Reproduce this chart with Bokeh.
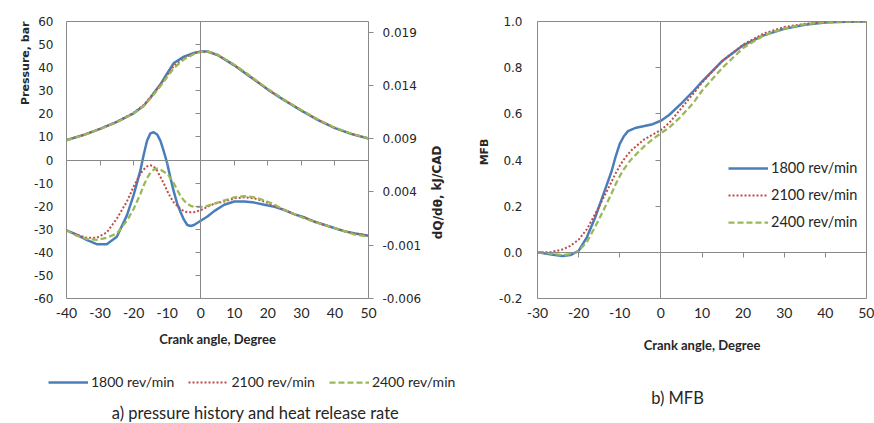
from bokeh.plotting import figure
from bokeh.models import (Range1d, LinearAxis, FixedTicker, PrintfTickFormatter,
                          Label, Legend, LegendItem, Title)
from bokeh.layouts import row, column
from bokeh.embed import file_html
from bokeh.resources import INLINE

# ---------------- data ----------------
series_names = ["1800 rev/min", "2100 rev/min", "2400 rev/min"]

# a) cylinder pressure (bar)
p_angle = [-40, -35, -30, -25, -20, -17, -15, -12, -10, -8, -5, -2, 0, 2, 5, 10, 15, 20, 25, 30, 35, 40, 45, 50]
p_1800 = [8.6, 10.8, 13.5, 16.5, 20.2, 23.5, 27.0, 32.8, 37.5, 42.0, 44.8, 46.4, 47.0, 47.0, 45.5, 41.0, 35.8, 30.5, 25.8, 21.4, 17.3, 13.8, 11.2, 9.3]
p_2100 = [8.6, 10.8, 13.5, 16.6, 20.4, 23.8, 27.2, 32.6, 36.8, 40.8, 44.2, 46.2, 46.9, 47.0, 45.6, 41.1, 35.9, 30.6, 25.9, 21.5, 17.4, 13.9, 11.3, 9.4]
p_2400 = [8.5, 10.7, 13.4, 16.4, 20.2, 23.4, 26.6, 32.0, 36.0, 39.8, 43.6, 45.9, 46.8, 47.0, 45.7, 41.3, 36.1, 30.8, 26.0, 21.6, 17.5, 14.0, 11.4, 9.4]

# a) heat release rate (kJ/CAD)
h_angle = [-40, -37, -34, -31, -28, -25, -22, -20, -18, -17, -16, -15, -14, -13, -12, -11, -10, -9, -8, -7,
           -6, -5, -4, -3, -2, 0, 2, 4, 7, 10, 13, 16, 19, 22, 25, 28, 31, 34, 37, 40, 43, 46, 50]
h_1800 = [0.0004, 0.0000, -0.0005, -0.0009, -0.0009, -0.0002, 0.0018, 0.0037, 0.0060, 0.0075, 0.0088, 0.0095,
          0.0096, 0.0094, 0.0088, 0.0078, 0.0067, 0.0053, 0.0040, 0.0029, 0.0021, 0.0014, 0.0009, 0.0008,
          0.0009, 0.0013, 0.0017, 0.0022, 0.0028, 0.0031, 0.0031, 0.0030, 0.0028, 0.0026, 0.0023, 0.0019,
          0.0016, 0.0012, 0.0009, 0.0006, 0.0003, 0.0001, -0.0001]
h_2100 = [0.0004, 0.0000, -0.0003, -0.0003, 0.0002, 0.0015, 0.0031, 0.0045, 0.0057, 0.0061, 0.0064, 0.0065,
          0.0064, 0.0060, 0.0054, 0.0048, 0.0041, 0.0035, 0.0030, 0.0027, 0.0024, 0.0022, 0.0021, 0.0021,
          0.0021, 0.0023, 0.0026, 0.0029, 0.0031, 0.0034, 0.0035, 0.0034, 0.0031, 0.0027, 0.0023, 0.0019,
          0.0016, 0.0012, 0.0009, 0.0006, 0.0003, 0.0001, -0.0001]
h_2400 = [0.0004, -0.0001, -0.0004, -0.0005, -0.0003, 0.0001, 0.0013, 0.0024, 0.0038, 0.0046, 0.0053, 0.0058,
          0.0061, 0.0062, 0.0061, 0.0059, 0.0057, 0.0053, 0.0048, 0.0042, 0.0036, 0.0032, 0.0029, 0.0027,
          0.0026, 0.0026, 0.0027, 0.0029, 0.0032, 0.0035, 0.0036, 0.0035, 0.0032, 0.0028, 0.0023, 0.0019,
          0.0015, 0.0012, 0.0009, 0.0006, 0.0003, 0.0000, -0.0002]

# b) mass fraction burned
m_angle = [-30, -27, -24, -22, -20, -18, -16, -14, -12, -11, -10, -9, -8, -7, -6, -4, -2, 0, 2, 5, 8, 10,
           15, 20, 25, 30, 35, 40, 45, 50]
m_1800 = [0.0, -0.008, -0.016, -0.012, 0.006, 0.065, 0.15, 0.25, 0.35, 0.415, 0.47, 0.503, 0.525, 0.533, 0.54,
          0.547, 0.555, 0.57, 0.595, 0.645, 0.70, 0.74, 0.83, 0.897, 0.94, 0.968, 0.986, 0.996, 0.999, 1.0]
m_2100 = [0.0, 0.0, 0.012, 0.028, 0.055, 0.10, 0.165, 0.235, 0.305, 0.342, 0.375, 0.402, 0.425, 0.445, 0.46,
          0.49, 0.51, 0.53, 0.56, 0.625, 0.69, 0.735, 0.83, 0.90, 0.948, 0.976, 0.99, 0.998, 1.0, 1.0]
m_2400 = [0.0, -0.005, -0.012, -0.008, 0.005, 0.045, 0.11, 0.18, 0.255, 0.295, 0.33, 0.36, 0.385, 0.407, 0.425,
          0.46, 0.49, 0.516, 0.54, 0.59, 0.65, 0.70, 0.80, 0.885, 0.94, 0.97, 0.988, 0.997, 1.0, 1.0]

# tick labels
a_x_ticks = [-40, -30, -20, -10, 0, 10, 20, 30, 40, 50]
a_y_ticks = [-60, -50, -40, -30, -20, -10, 0, 10, 20, 30, 40, 50, 60]
a_y2_ticks = [-0.006, -0.001, 0.004, 0.009, 0.014, 0.019]
b_x_ticks = [-30, -20, -10, 0, 10, 20, 30, 40, 50]
b_y_ticks = [-0.2, 0.0, 0.2, 0.4, 0.6, 0.8, 1.0]

# ---------------- style ----------------
BLUE, RED, GREEN = "#4A7EBB", "#BE4B48", "#98B954"
GRAY = "#898989"
TXT = "#262626"
styles = [dict(color=BLUE, line_width=2.5),
          dict(color=RED, line_width=2, line_dash="2 2"),
          dict(color=GREEN, line_width=2.25, line_dash="6 3")]

TOP_H, BOT_H = 360, 63
W1, WM, W2 = 426, 26, 422      # top row widths
WB1, WB2 = 460, 414            # bottom row widths
NAN = float("nan")


def style_main(ax, ticks, font, size, standoff, fmt):
    ax.ticker = FixedTicker(ticks=ticks)
    ax.formatter = fmt
    ax.major_tick_line_color = None
    ax.major_tick_in = 0
    ax.major_tick_out = 0
    ax.minor_tick_line_color = None
    ax.minor_tick_out = 0
    ax.axis_line_color = None
    ax.major_label_text_font = font
    ax.major_label_text_font_size = size
    ax.major_label_text_color = TXT
    ax.major_label_standoff = standoff


def zero_axis(ticks, tin, tout):
    return LinearAxis(fixed_location=0, ticker=FixedTicker(ticks=ticks),
                      axis_line_color=GRAY, axis_line_width=1,
                      major_tick_line_color=GRAY, major_tick_in=tin, major_tick_out=tout,
                      minor_tick_line_color=None, minor_tick_out=0,
                      major_label_overrides={t: "" for t in ticks},
                      major_label_text_font_size="1px", major_label_text_alpha=0,
                      major_label_standoff=0)


def blank_fig(w, h):
    f = figure(width=w, height=h, output_backend="svg", toolbar_location=None,
               x_range=Range1d(0, w), y_range=Range1d(0, h),
               x_axis_type=None, y_axis_type=None, min_border=0)
    f.grid.visible = False
    f.outline_line_color = None
    f.background_fill_color = "white"
    f.border_fill_color = "white"
    return f


def chart_fig(w, xr, yr, left, fw, top, fh):
    f = figure(width=w, height=TOP_H, output_backend="svg", toolbar_location=None,
               x_range=Range1d(*xr), y_range=Range1d(*yr),
               min_border_left=left, min_border_right=w - left - fw,
               min_border_top=top, min_border_bottom=TOP_H - top - fh)
    f.grid.visible = False
    f.outline_line_color = GRAY
    f.background_fill_color = "white"
    f.border_fill_color = "white"
    return f


def style_xlabel(ax, standoff):
    ax.axis_label = "Crank angle, Degree"
    ax.axis_label_text_font = "Lato"
    ax.axis_label_text_font_size = "13px"
    ax.axis_label_text_font_style = "bold"
    ax.axis_label_text_color = TXT
    ax.axis_label_standoff = standoff


# ---------------- a) pressure & heat release ----------------
p1 = chart_fig(W1, (-40, 50), (-60, 60), 66, 302, 17, 281)
p1.extra_y_ranges = {"hrr": Range1d(-0.006, 0.02)}
style_main(p1.xaxis[0], a_x_ticks, "Lato", "14px", 9, PrintfTickFormatter(format="%d"))
style_xlabel(p1.xaxis[0], 10)
style_main(p1.yaxis[0], a_y_ticks, "DejaVu Sans", "12px", 13, PrintfTickFormatter(format="%d"))

ax_r = LinearAxis(y_range_name="hrr", ticker=FixedTicker(ticks=a_y2_ticks),
                  formatter=PrintfTickFormatter(format="%.3f"),
                  axis_line_color=None, major_tick_line_color=GRAY,
                  major_tick_in=0, major_tick_out=5, minor_tick_line_color=None, minor_tick_out=0,
                  major_label_text_font="DejaVu Sans", major_label_text_font_size="12px",
                  major_label_text_color=TXT, major_label_standoff=9)
p1.add_layout(ax_r, "right")
p1.add_layout(zero_axis(a_x_ticks[1:-1], 5, 0), "above")
p1.add_layout(zero_axis(a_y_ticks[1:-1], 0, 5), "left")
p1.add_layout(Title(text="Pressure, bar", align="right", offset=0, standoff=-2,
                    text_font="DejaVu Sans", text_font_size="11px", text_font_style="bold",
                    text_color=TXT), "left")

for ys, st in zip([p_1800, p_2100, p_2400], styles):
    p1.line(p_angle, ys, **st)
for ys, st in zip([h_1800, h_2100, h_2400], styles):
    p1.line(h_angle, ys, y_range_name="hrr", **st)

# narrow strip holding the right-hand axis title of chart a)
pm = blank_fig(WM, TOP_H)
pm.add_layout(Label(x=11, y=TOP_H - 222, text="dQ/dθ, kJ/CAD", angle=1.5708,
                    text_font="DejaVu Sans", text_font_size="12px", text_font_style="bold",
                    text_color=TXT, text_align="center", text_baseline="middle"))

# ---------------- b) MFB ----------------
p2 = chart_fig(W2, (-30, 50), (-0.2, 1.0), 85, 329, 21, 277)
style_main(p2.xaxis[0], b_x_ticks, "Lato", "14px", 9, PrintfTickFormatter(format="%d"))
style_xlabel(p2.xaxis[0], 16)
style_main(p2.yaxis[0], b_y_ticks, "DejaVu Sans", "12px", 15, PrintfTickFormatter(format="%.1f"))
p2.add_layout(zero_axis(b_x_ticks[1:-1], 5, 0), "above")
p2.add_layout(zero_axis(b_y_ticks[1:-1], 5, 0), "right")
p2.add_layout(Title(text="MFB", align="right", offset=117, standoff=12,
                    text_font="DejaVu Sans", text_font_size="11px", text_font_style="bold",
                    text_color=TXT), "left")

mr = []
for ys, st in zip([m_1800, m_2100, m_2400], styles):
    mr.append(p2.line(m_angle, ys, **st))

leg2 = Legend(items=[LegendItem(label=n, renderers=[r]) for n, r in zip(series_names, mr)],
              orientation="vertical", location=(728 - 537, 298 - 230),
              border_line_color=None, background_fill_alpha=0, padding=0, margin=0,
              glyph_width=40, glyph_height=14, label_height=14, label_standoff=3, spacing=10,
              label_text_font="Lato", label_text_font_size="14.5px", label_text_color=TXT)
p2.add_layout(leg2, "center")

# ---------------- bottom strips: legend a) and captions ----------------
pb1 = blank_fig(WB1, BOT_H)
lr = [pb1.line([NAN], [NAN], **st) for st in styles]
leg1 = Legend(items=[LegendItem(label=n, renderers=[r]) for n, r in zip(series_names, lr)],
              orientation="horizontal", location=(48, BOT_H - (390 - TOP_H)),
              border_line_color=None, background_fill_alpha=0, padding=0, margin=0,
              glyph_width=40, glyph_height=14, label_height=14, label_standoff=3, spacing=14,
              label_text_font="Lato", label_text_font_size="14px", label_text_color=TXT)
pb1.add_layout(leg1, "center")
pb1.add_layout(Label(x=255, y=BOT_H - (412 - TOP_H), text="a) pressure history and heat release rate",
                     text_font="Lato", text_font_size="16.5px", text_color=TXT,
                     text_align="center", text_baseline="middle"))

pb2 = blank_fig(WB2, BOT_H)
pb2.add_layout(Label(x=677 - WB1, y=BOT_H - (397 - TOP_H), text="b) MFB",
                     text_font="Lato", text_font_size="16.5px", text_color=TXT,
                     text_align="center", text_baseline="middle"))

layout = column(row(p1, pm, p2), row(pb1, pb2))
open("out.html", "w").write(file_html(layout, INLINE))
